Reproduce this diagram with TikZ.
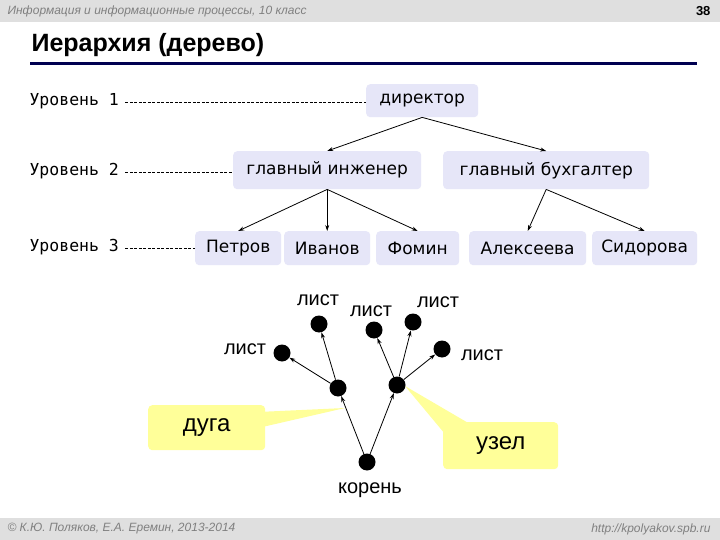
\documentclass[tikz,border=0pt]{standalone}
\usepackage{fontspec}
\setmainfont{Liberation Sans}
\newfontfamily\dvs{DejaVu Sans}
\newfontfamily\dvm{DejaVu Sans Mono}
\usetikzlibrary{arrows.meta}
\definecolor{boxfill}{HTML}{E6E6F8}
\definecolor{callout}{HTML}{FFFF99}
\definecolor{navy}{HTML}{000050}
\begin{document}
\begin{tikzpicture}[x=1pt,y=-1pt,
  pbox/.style={rectangle,rounded corners=4pt,fill=boxfill,font=\dvs\fontsize{17}{19}\selectfont,inner sep=0pt,anchor=north west},
  lvl/.style={font=\dvm\fontsize{16.5}{18}\selectfont,anchor=west},
  dl/.style={dash pattern=on 3pt off 1.5pt,line width=0.6pt},
  arr/.style={-{Stealth[length=6pt,width=4pt]},line width=0.8pt},
  dot/.style={circle,fill=black,minimum size=17pt,inner sep=0pt},
  lab/.style={font=\fontsize{20}{22}\selectfont},
  co/.style={fill=callout,rounded corners=4pt}]
\useasboundingbox (0,0) rectangle (720,540);
\fill[white] (0,0) rectangle (720,540);
% header / footer
\fill[gray!25] (0,0) rectangle (720,22);
\node[anchor=west,text=gray,font=\itshape\fontsize{12}{13}\selectfont] (hdr) at (4,11) {Информация и информационные процессы, 10 класс};
\node[anchor=east,font=\bfseries\fontsize{13}{14}\selectfont] (pg) at (714,11) {38};
\fill[gray!25] (0,518) rectangle (720,540);
\node[anchor=west,text=gray,font=\itshape\fontsize{12}{13}\selectfont] (ftl) at (4,529) {© К.Ю. Поляков, Е.А. Еремин, 2013-2014};
\node[anchor=east,text=gray,font=\itshape\fontsize{12}{13}\selectfont] (ftr) at (714,529) {http://kpolyakov.spb.ru};
% title
\node[anchor=west,font=\bfseries\fontsize{25}{28}\selectfont] (title) at (28,45) {Иерархия (дерево)};
\fill[navy] (30,62) rectangle (697,65);
% levels
\node[lvl] (l1) at (26,101) {Уровень 1};
\node[lvl] (l2) at (26,171) {Уровень 2};
\node[lvl] (l3) at (26,247) {Уровень 3};
% boxes
\node[pbox,minimum width=112pt,minimum height=33pt] (dir) at (366,84) {директор};
\node[pbox,minimum width=188pt,minimum height=38pt] (eng) at (233,151) {главный инженер};
\node[pbox,minimum width=206pt,minimum height=38pt] (buh) at (443,151) {главный бухгалтер};
\node[pbox,minimum width=86pt,minimum height=34pt] (pet) at (195,231) {Петров};
\node[pbox,minimum width=86pt,minimum height=34pt] (iva) at (284,231) {Иванов};
\node[pbox,minimum width=83pt,minimum height=34pt] (fom) at (376,231) {Фомин};
\node[pbox,minimum width=117pt,minimum height=34pt] (ale) at (469,231) {Алексеева};
\node[pbox,minimum width=105pt,minimum height=34pt] (sid) at (592,231) {Сидорова};
\draw[dl] (l1.east) ++(3,1) -- (dir.west |- 0,102);
\draw[dl] (l2.east) ++(3,1) -- (eng.west |- 0,172);
\draw[dl] (l3.east) ++(3,1) -- (pet.west |- 0,248);
\draw[arr] (dir.south) -- (eng.north);
\draw[arr] (dir.south) -- (buh.north);
\draw[arr] (eng.south) -- (pet.north);
\draw[arr] (eng.south) -- (iva.north);
\draw[arr] (eng.south) -- (fom.north);
\draw[arr] (buh.south) -- (ale.north);
\draw[arr] (buh.south) -- (sid.north);
% callouts
\fill[callout] (258,412) -- (345,408) -- (258,428) -- cycle;
\node[co,minimum width=117pt,minimum height=45pt,anchor=north west,font=\fontsize{24}{26}\selectfont] (duga) at (148,405) {дуга};
\fill[callout] (405,386) -- (470,424) -- (450,440) -- cycle;
\node[co,minimum width=115pt,minimum height=47pt,anchor=north west,font=\fontsize{24}{26}\selectfont] (uzel) at (443,422) {узел};
% tree
\node[dot] (root) at (367,462) {};
\node[dot] (a) at (338,388) {};
\node[dot] (b) at (397,385) {};
\node[dot] (f1) at (282,353) {};
\node[dot] (f2) at (319,324) {};
\node[dot] (f3) at (374,330) {};
\node[dot] (f4) at (413,322) {};
\node[dot] (f5) at (442,349) {};
\draw[arr] (root) -- (a);
\draw[arr] (root) -- (b);
\draw[arr] (a) -- (f1);
\draw[arr] (a) -- (f2);
\draw[arr] (b) -- (f3);
\draw[arr] (b) -- (f4);
\draw[arr] (b) -- (f5);
\node[lab] (t1) at (245,349) {лист};
\node[lab] (t2) at (318,300) {лист};
\node[lab] (t3) at (371,311) {лист};
\node[lab] (t4) at (438,302) {лист};
\node[lab] (t5) at (482,355) {лист};
\node[lab] (tr) at (370,490) {корень};
\end{tikzpicture}
\end{document}
